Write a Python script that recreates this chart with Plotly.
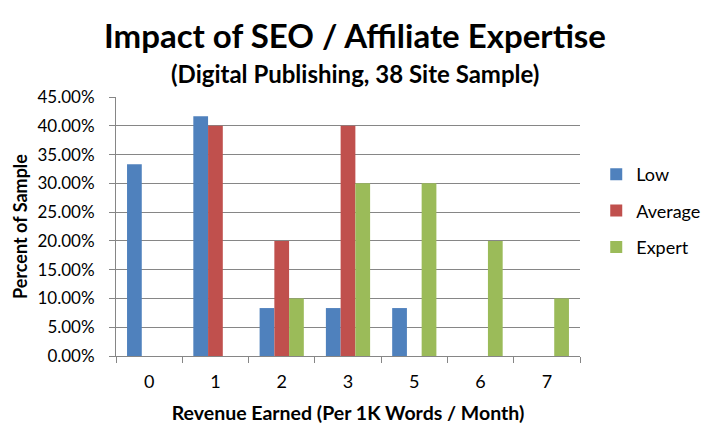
import plotly.graph_objects as go

categories = ["0", "1", "2", "3", "5", "6", "7"]
low = [33.33, 41.67, 8.33, 8.33, 8.33, 0, 0]
average = [0, 40, 20, 40, 0, 0, 0]
expert = [0, 0, 10, 30, 30, 20, 10]
y_ticks = [0, 5, 10, 15, 20, 25, 30, 35, 40, 45]
y_tick_labels = [f"{v:.2f}%" for v in y_ticks]
title_text = "Impact of SEO / Affiliate Expertise"
subtitle_text = "(Digital Publishing, 38 Site Sample)"

series = [("Low", low, "#4F81BD"), ("Average", average, "#C0504D"), ("Expert", expert, "#9BBB59")]

fig = go.Figure()
for name, vals, color in series:
    fig.add_trace(go.Bar(x=categories, y=vals, name=name, marker_color=color,
                         marker_line_width=0, legendgroup=name))

font = "Lato, 'Open Sans', sans-serif"
fig.update_layout(
    width=711, height=424,
    margin=dict(l=116, r=131, t=97, b=68, autoexpand=False),
    paper_bgcolor="white", plot_bgcolor="white",
    barmode="group", bargap=0.333, bargroupgap=0,
    font=dict(family=font, color="black"),
    annotations=[
        dict(text=f"<b>{title_text}</b>", xref="paper", yref="paper", x=0.515, y=1.0 + (97 - 35) / 259,
             xanchor="center", yanchor="middle", showarrow=False, font=dict(size=33)),
        dict(text=f"<b>{subtitle_text}</b>", xref="paper", yref="paper", x=0.515, y=1.0 + (97 - 74) / 259,
             xanchor="center", yanchor="middle", showarrow=False, font=dict(size=24)),
    ],
    legend=dict(x=1.035, xanchor="left", y=0.56, yanchor="middle",
                font=dict(size=18), traceorder="grouped", tracegroupgap=10,
                bgcolor="rgba(0,0,0,0)"),
    xaxis=dict(
        type="category", showgrid=False, showline=True, linecolor="#868686",
        ticks="outside", tickson="boundaries", ticklen=6, tickcolor="#868686",
        tickfont=dict(size=18), automargin=False, ticklabelstandoff=9,
        title=dict(text="<b>Revenue Earned (Per 1K Words / Month)</b>", font=dict(size=19.5), standoff=20),
    ),
    yaxis=dict(
        range=[0, 45], tickvals=y_ticks, ticktext=y_tick_labels,
        showgrid=True, gridcolor="#868686", gridwidth=1,
        showline=True, linecolor="#868686", ticks="outside", ticklen=6, tickcolor="#868686",
        tickfont=dict(size=17), zeroline=False, automargin=False, ticklabelstandoff=11,
        title=dict(text="<b>Percent of Sample</b>", font=dict(size=18), standoff=5),
    ),
)

fig.write_html("out.html", config={"displayModeBar": False},
               post_script="document.body.style.margin='0';")
